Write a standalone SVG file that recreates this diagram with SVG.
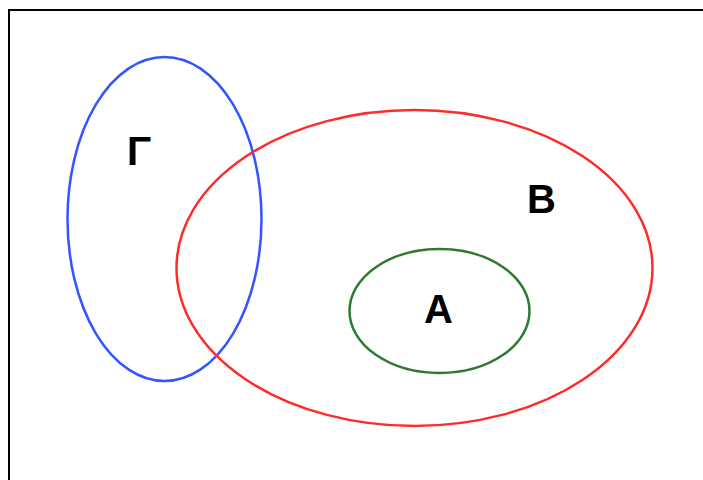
<svg xmlns="http://www.w3.org/2000/svg" width="703" height="480" viewBox="0 0 703 480">
  <style>
    .set { fill: none; stroke-width: 2.5; }
    .lbl { font-family: "Liberation Sans", Arial, sans-serif; font-size: 40px; font-weight: bold; fill: #000; text-anchor: middle; }
  </style>
  <rect x="0" y="0" width="703" height="480" fill="#fff"/>
  <!-- frame -->
  <rect x="9" y="10" width="720" height="500" fill="none" stroke="#000" stroke-width="2"/>
  <g id="set-gamma">
    <ellipse class="set" cx="164.5" cy="219" rx="97" ry="162" stroke="#3355ff"/>
    <text class="lbl" x="139" y="165">Γ</text>
  </g>
  <g id="set-b">
    <ellipse class="set" cx="414.5" cy="268" rx="238" ry="158" stroke="#ff2b2b"/>
    <text class="lbl" x="541.5" y="213">B</text>
  </g>
  <g id="set-a">
    <ellipse class="set" cx="439.5" cy="311" rx="90" ry="62" stroke="#2e7a32"/>
    <text class="lbl" x="438.5" y="323">A</text>
  </g>
  <g id="connectors"/>
</svg>
